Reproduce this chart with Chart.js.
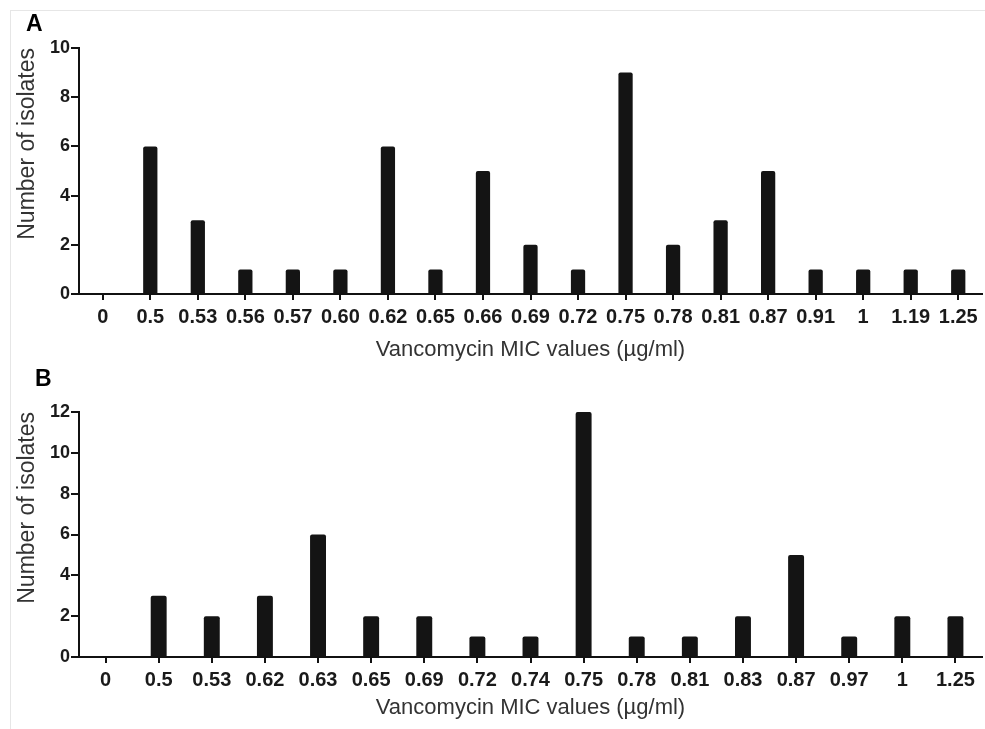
<!DOCTYPE html>
<html><head><meta charset="utf-8">
<script src="https://cdn.jsdelivr.net/npm/chart.js@4"></script>
<style>
html,body{margin:0;padding:0;background:#fff;width:985px;height:729px;overflow:hidden;font-family:"Liberation Sans",Arial,sans-serif;}
#frame{position:absolute;left:10px;top:10px;width:990px;height:730px;border-left:1px solid #e6e6e6;border-top:1px solid #e6e6e6;}
.lbl{position:absolute;font-weight:bold;font-size:23px;color:#000;line-height:normal;}
.wrap{position:absolute;left:0;width:985px;}
</style></head><body>
<div id="frame"></div>
<div class="wrap" style="top:0;height:370px;"><canvas id="cA"></canvas></div>
<div class="wrap" style="top:360px;height:369px;"><canvas id="cB"></canvas></div>
<div class="lbl" style="left:26px;top:10px;">A</div>
<div class="lbl" style="left:35px;top:365px;">B</div>
<script>
const categoriesA = ["0","0.5","0.53","0.56","0.57","0.60","0.62","0.65","0.66","0.69","0.72","0.75","0.78","0.81","0.87","0.91","1","1.19","1.25"];
const valuesA     = [0,6,3,1,1,1,6,1,5,2,1,9,2,3,5,1,1,1,1];
const yTicksA = [0,2,4,6,8,10];

const categoriesB = ["0","0.5","0.53","0.62","0.63","0.65","0.69","0.72","0.74","0.75","0.78","0.81","0.83","0.87","0.97","1","1.25"];
const valuesB     = [0,3,2,3,6,2,2,1,1,12,1,1,2,5,1,2,2];
const yTicksB = [0,2,4,6,8,10,12];

const xTitle = "Vancomycin MIC values (µg/ml)";
const yTitle = "Number of isolates";

const FONT = "'Liberation Sans', Arial, sans-serif";

function makeChart(id, cats, vals, yTicks, topPad, canvasH, bottomY, titleBottom) {
  const ctx = document.getElementById(id);
  return new Chart(ctx, {
    type: 'bar',
    data: { labels: cats, datasets: [{ data: vals, backgroundColor: '#141414', borderRadius: 2, borderSkipped: 'bottom', barPercentage: 0.3, categoryPercentage: 1.0 }] },
    options: {
      responsive: true, maintainAspectRatio: false, animation: false,
      layout: { padding: { left: 0, right: 3, top: topPad, bottom: 0 } },
      plugins: { legend: { display: false }, tooltip: { enabled: false } },
      scales: {
        x: {
          offset: true,
          grid: { offset: false, drawOnChartArea: false, drawTicks: true, tickLength: 6, color: '#111', lineWidth: 2 },
          border: { color: '#111', width: 2 },
          ticks: { color: '#1a1a1a', font: { family: FONT, size: 20, weight: 'bold' }, padding: 5, maxRotation: 0, autoSkip: false },
          title: { display: true, text: xTitle, color: '#333', font: { family: FONT, size: 22 }, padding: { top: 0, bottom: titleBottom } },
          afterFit: s => { s.height = canvasH - bottomY; }
        },
        y: {
          min: yTicks[0], max: yTicks[yTicks.length - 1],
          afterBuildTicks: s => { s.ticks = yTicks.map(v => ({ value: v })); },
          grid: { drawOnChartArea: false, drawTicks: true, tickLength: 8, color: '#111', lineWidth: 2 },
          border: { color: '#111', width: 2 },
          ticks: { color: '#1a1a1a', font: { family: FONT, size: 18, weight: 'bold' }, padding: 1 },
          title: { display: true, text: yTitle, align: 'end', color: '#333', font: { family: FONT, size: 23 }, padding: { top: 14, bottom: 0 } },
          afterFit: s => { s.width = 79; }
        }
      }
    }
  });
}
makeChart('cA', categoriesA, valuesA, yTicksA, 48, 370, 294, 7);
makeChart('cB', categoriesB, valuesB, yTicksB, 52, 369, 297, 8);
</script>
</body></html>
